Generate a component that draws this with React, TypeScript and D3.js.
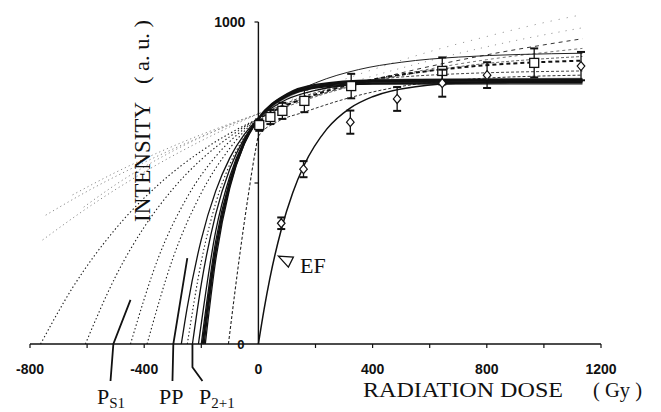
import React from 'react';
import * as d3 from 'd3';

// axis ticks (dose in Gy, intensity in a.u.)
const xTickLabels = [-800, -400, 0, 400, 800, 1200];
const xMinorTicks = [-800, -600, -400, -200, 200, 400, 600, 800, 1000, 1200];
const yTickValues = [500, 1000];
const yTickLabels = [0, 1000];

// growth curves as [dose, intensity]
// faint, nearly straight extrapolations
const F1 = [[-756, 323], [-600, 422], [-400, 534], [-200, 631], [0, 715], [200, 789], [400, 852], [600, 908], [800, 955], [1000, 998], [1135, 1023]];
const F2 = [[-745, 400], [-600, 474], [-400, 564], [-200, 644], [0, 715], [200, 777], [400, 832], [600, 880], [800, 923], [1000, 960], [1135, 982]];
const F3 = [[-651, 463], [-500, 533], [-300, 614], [-100, 684], [0, 715], [200, 771], [400, 820], [600, 862], [800, 898], [1000, 929], [1135, 948]];
const F4 = [[-612, 425], [-500, 495], [-300, 599], [-100, 681], [0, 715], [200, 773], [400, 818], [600, 854], [800, 883], [1000, 905], [1135, 918]];

// dotted extrapolations reaching the dose axis
const D1 = [[-763, 0], [-650, 176], [-500, 358], [-350, 495], [-200, 599], [0, 700], [200, 768], [400, 816], [700, 861], [1135, 893]];
const D2 = [[-606, 0], [-500, 210], [-400, 363], [-300, 481], [-200, 573], [-100, 644], [0, 700], [100, 742], [200, 775], [400, 821], [700, 858], [1135, 880]];
const D3 = [[-448, 0], [-350, 269], [-250, 455], [-150, 582], [-50, 668], [0, 700], [100, 748], [300, 803], [600, 835], [1135, 848]];
const D4 = [[-390, 0], [-300, 265], [-200, 469], [-100, 608], [0, 703], [100, 768], [200, 811], [350, 852], [500, 875], [700, 891], [1135, 903]];
const D5 = [[-249, 0], [-200, 256], [-150, 436], [-100, 558], [-50, 642], [0, 700], [100, 766], [300, 812], [600, 823], [1135, 825]];
const D6 = [[-105, 0], [-63, 292], [-38, 447], [-10, 602], [0, 645], [66, 690], [160, 720], [320, 765], [500, 800], [700, 820], [1135, 835]];

// solid cluster
const C1 = [[-186, 0], [-150, 257], [-100, 485], [-50, 620], [0, 700], [100, 775], [200, 801], [400, 813], [1135, 815]];
const C2 = [[-190, 0], [-150, 279], [-100, 497], [-50, 625], [0, 700], [100, 771], [200, 795], [400, 807], [1135, 808]];
const C3 = [[-195, 0], [-150, 292], [-100, 497], [-50, 623], [0, 700], [100, 776], [200, 805], [400, 819], [1135, 822]];
const C4 = [[-200, 0], [-150, 317], [-100, 510], [-50, 628], [0, 700], [100, 770], [200, 797], [400, 810], [1135, 812]];
const C5 = [[-210, 0], [-150, 348], [-100, 521], [-50, 631], [0, 700], [100, 771], [200, 799], [400, 815], [1135, 818]];
const C6 = [[-231, 0], [-200, 186], [-150, 402], [-100, 544], [-50, 638], [0, 700], [100, 768], [200, 797], [400, 816], [1135, 820]];
const C7 = [[-270, 0], [-250, 110], [-200, 325], [-150, 474], [-100, 578], [-50, 650], [0, 700], [100, 760], [200, 788], [400, 809], [1135, 815]];

// EF growth curve
const EF = [[0, 0], [20, 108], [40, 203], [80, 355], [120, 469], [160, 555], [240, 668], [320, 732], [400, 768], [550, 799], [750, 811], [1135, 815]];

// measured points with error bars
const squareDose = [3, 42, 84, 161, 325, 644, 966];
const squareValue = [680, 705, 724, 755, 801, 848, 873];
const squareErr = [18, 22, 25, 35, 38, 42, 45];
const diamondDose = [80, 158, 322, 486, 644, 801, 1130];
const diamondValue = [375, 543, 689, 761, 810, 835, 863];
const diamondErr = [18, 25, 36, 37, 42, 40, 44];

// leader lines from the labels under the axis
const leaderPS1 = [[-518, -115], [-508, 0], [-448, 137]];
const leaderPP = [[-301, -115], [-298, 0], [-249, 267]];
const leaderP21 = [[-196, -115], [-231, -72], [-231, 0]];
const efMark = [70, 273];

export default function App() {
  const x = d3.scaleLinear().domain([-800, 1200]).range([30, 601]);
  const y = d3.scaleLinear().domain([0, 1000]).range([344, 22]);
  const smooth = d3.line<number[]>().x(d => x(d[0])).y(d => y(d[1])).curve(d3.curveMonotoneX);
  const straight = d3.line<number[]>().x(d => x(d[0])).y(d => y(d[1]));
  const x0 = x(0);

  const dotted = { stroke: '#1a1a1a', dash: '1.4,2.4', w: 1.1 };
  const faint = { stroke: '#8c8c8c', dash: '1.2,3', w: 1 };
  const solid = { stroke: '#111', dash: 'none', w: 1.3 };

  const curves = [
    { pts: F1, left: faint, right: { stroke: '#9a9a9a', dash: '1.2,7', w: 1 } },
    { pts: F2, left: faint, right: { stroke: '#9a9a9a', dash: '1.2,6', w: 1 } },
    { pts: F3, left: faint, right: { stroke: '#333', dash: '4,4', w: 1 } },
    { pts: F4, left: faint, right: { stroke: '#777', dash: '3,3', w: 1 } },
    { pts: D1, left: dotted, right: { stroke: '#666', dash: '3,2', w: 1 } },
    { pts: D2, left: dotted, right: { stroke: '#111', dash: '4,3', w: 2 } },
    { pts: D3, left: dotted, right: { stroke: '#444', dash: '3,2', w: 1 } },
    { pts: D4, left: dotted, right: { stroke: '#222', dash: 'none', w: 1 } },
    { pts: D5, left: dotted, right: { stroke: '#999', dash: 'none', w: 1.3 } },
    { pts: D6, left: { stroke: '#222', dash: '3,2', w: 1.1 }, right: { stroke: '#333', dash: '3,2', w: 1 } },
    { pts: C1, left: solid, right: solid },
    { pts: C2, left: solid, right: solid },
    { pts: C3, left: { ...solid, w: 2.2 }, right: { ...solid, w: 2.2 } },
    { pts: C4, left: solid, right: solid },
    { pts: C5, left: solid, right: solid },
    { pts: C6, left: solid, right: solid },
    { pts: C7, left: solid, right: solid },
  ];

  const serif = '"Liberation Serif", "Times New Roman", serif';
  const sans = '"Liberation Sans", Arial, sans-serif';

  return (
    <svg width={661} height={412} style={{ position: 'absolute', left: 0, top: 0, background: '#fff' }}>
      <defs>
        <clipPath id="leftSide"><rect x={0} y={0} width={x0} height={412} /></clipPath>
        <clipPath id="rightSide"><rect x={x0} y={0} width={661 - x0} height={412} /></clipPath>
      </defs>

      {curves.map((c, i) => (
        <g key={i} fill="none">
          <path d={smooth(c.pts) || ''} clipPath="url(#leftSide)" stroke={c.left.stroke}
            strokeWidth={c.left.w} strokeDasharray={c.left.dash} />
          <path d={smooth(c.pts) || ''} clipPath="url(#rightSide)" stroke={c.right.stroke}
            strokeWidth={c.right.w} strokeDasharray={c.right.dash} />
        </g>
      ))}
      <path d={smooth(EF) || ''} fill="none" stroke="#111" strokeWidth={1.5} />

      {/* axes */}
      <line x1={x(-800)} x2={x(1200)} y1={y(0)} y2={y(0)} stroke="#111" strokeWidth={1.5} />
      <line x1={x0} x2={x0} y1={y(0)} y2={y(1000)} stroke="#111" strokeWidth={1.4} />
      {xMinorTicks.map(v => (
        <line key={v} x1={x(v)} x2={x(v)} y1={y(0)} y2={y(0) + 4} stroke="#111" strokeWidth={1.2} />
      ))}
      {yTickValues.map(v => (
        <line key={v} x1={x0 - 4} x2={x0} y1={y(v)} y2={y(v)} stroke="#111" strokeWidth={1.2} />
      ))}
      {xTickLabels.map(v => (
        <text key={v} x={x(v)} y={374} textAnchor="middle" fontFamily={sans} fontWeight="bold" fontSize={14} fill="#111">
          {v}
        </text>
      ))}
      <text x={x0 - 13} y={y(1000) + 5} textAnchor="end" fontFamily={sans} fontWeight="bold" fontSize={14} fill="#111">
        {yTickLabels[1]}
      </text>
      <text x={x0 - 14} y={y(0) + 5} textAnchor="end" fontFamily={sans} fontWeight="bold" fontSize={13} fill="#111">
        {yTickLabels[0]}
      </text>

      {/* leader lines */}
      {[leaderPS1, leaderPP, leaderP21].map((l, i) => (
        <path key={i} d={straight(l) || ''} fill="none" stroke="#111" strokeWidth={1.8} />
      ))}

      {/* error bars and markers */}
      {squareDose.map((d, i) => {
        const cx = x(d), top = y(squareValue[i] + squareErr[i]), bot = y(squareValue[i] - squareErr[i]);
        return (
          <g key={'s' + i} stroke="#111">
            <line x1={cx} x2={cx} y1={top} y2={bot} strokeWidth={1.3} />
            <line x1={cx - 4} x2={cx + 4} y1={top} y2={top} strokeWidth={2} />
            <line x1={cx - 4} x2={cx + 4} y1={bot} y2={bot} strokeWidth={2} />
            <rect x={cx - 4.5} y={y(squareValue[i]) - 4.5} width={9} height={9} fill="#fff" strokeWidth={1.3} />
          </g>
        );
      })}
      {diamondDose.map((d, i) => {
        const cx = x(d), cy = y(diamondValue[i]);
        const top = y(diamondValue[i] + diamondErr[i]), bot = y(diamondValue[i] - diamondErr[i]);
        return (
          <g key={'d' + i} stroke="#111">
            <line x1={cx} x2={cx} y1={top} y2={bot} strokeWidth={1.3} />
            <line x1={cx - 4} x2={cx + 4} y1={top} y2={top} strokeWidth={2} />
            <line x1={cx - 4} x2={cx + 4} y1={bot} y2={bot} strokeWidth={2} />
            <path d={`M${cx},${cy - 4.5}L${cx + 3.8},${cy}L${cx},${cy + 4.5}L${cx - 3.8},${cy}Z`} fill="#fff" strokeWidth={1.2} />
          </g>
        );
      })}

      {/* EF label */}
      <path d={`M${x(efMark[0])},${y(efMark[1])}l15,1l-5,10Z`} fill="#fff" stroke="#111" strokeWidth={1.3} />
      <text x={300} y={273} fontFamily={serif} fontSize={22} fill="#111">EF</text>

      {/* labels below axis */}
      <text x={97} y={404} fontFamily={serif} fontSize={22} fill="#111">
        P<tspan fontSize={15} dy={4}>S1</tspan>
      </text>
      <text x={159} y={404} fontFamily={serif} fontSize={22} fill="#111">PP</text>
      <text x={199} y={404} fontFamily={serif} fontSize={22} fill="#111">
        P<tspan fontSize={15} dy={4}>2+1</tspan>
      </text>

      {/* axis titles */}
      <text transform="translate(150,162) rotate(-90)" textAnchor="middle" fontFamily={serif} fontSize={24}
        textLength={120} lengthAdjust="spacingAndGlyphs" fill="#111">INTENSITY</text>
      <text transform="translate(149,52) rotate(-90)" textAnchor="middle" fontFamily={serif} fontSize={20}
        textLength={64} lengthAdjust="spacingAndGlyphs" fill="#111">( a. u. )</text>
      <text x={363} y={397} fontFamily={serif} fontSize={21} textLength={200} lengthAdjust="spacingAndGlyphs" fill="#111">
        RADIATION DOSE
      </text>
      <text x={593} y={397} fontFamily={serif} fontSize={21} textLength={49} lengthAdjust="spacingAndGlyphs" fill="#111">
        ( Gy )
      </text>
    </svg>
  );
}
